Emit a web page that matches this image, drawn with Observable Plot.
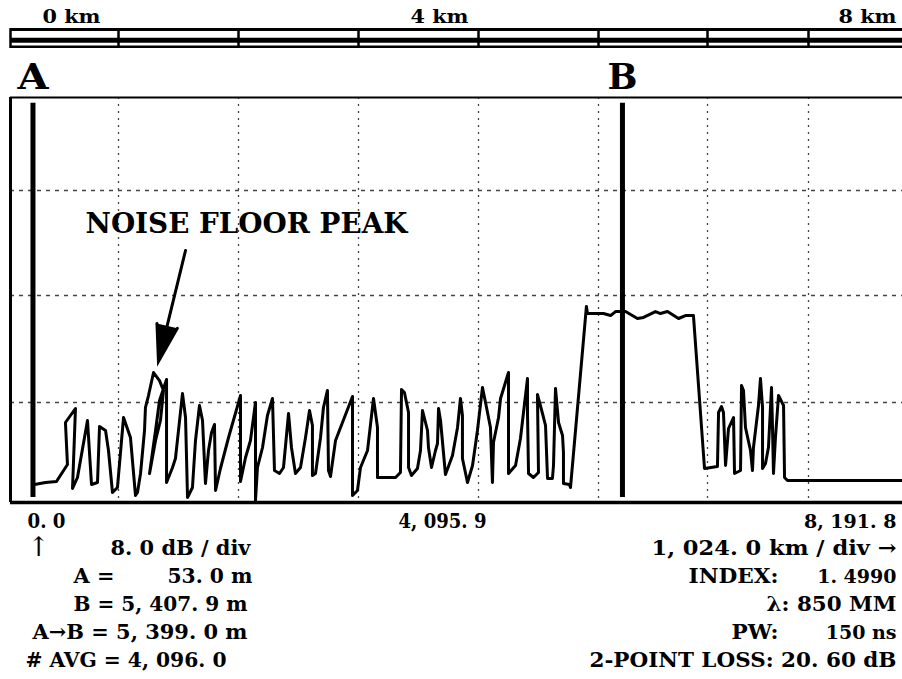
<!DOCTYPE html>
<html><head><meta charset="utf-8">
<script src="https://cdn.jsdelivr.net/npm/d3@7"></script>
<script src="https://cdn.jsdelivr.net/npm/@observablehq/plot@0.6"></script>
<style>
html,body{margin:0;padding:0;background:#fff;}
#chart{width:902px;height:679px;overflow:hidden;}
#chart svg{display:block;overflow:visible;}
</style></head><body><div id="chart"></div>
<script>
// ---- data (distance in metres, level in dB) ----
const traceDistance = [228,332,436,540,521,616,588,635,730,768,825,844,901,929,967,1014,1067,1126,1169,1186,1212,1246,1254,1280,1323,1374,1408,1382,1340,1289,1340,1374,1434,1434,1485,1510,1570,1596,1613,1655,1681,1715,1741,1766,1792,1818,1843,1852,1894,1963,2065,2065,2108,2150,2193,2193,2210,2253,2295,2338,2355,2398,2432,2475,2500,2534,2577,2620,2654,2679,2679,2705,2748,2773,2807,2816,2833,2876,3021,3021,3063,3089,3149,3200,3234,3234,3388,3430,3439,3464,3499,3499,3524,3575,3601,3618,3661,3669,3695,3729,3746,3755,3772,3814,3874,3917,3942,3959,3959,4002,4045,4087,4130,4156,4198,4215,4224,4267,4284,4352,4352,4412,4454,4514,4514,4523,4565,4608,4599,4642,4668,4685,4727,4736,4753,4779,4813,4821,4821,4872,4881,5017,5026,5167,5233,5280,5374,5486,5543,5655,5702,5768,5872,5937,6012,6116,6245,6256,6286,6306,6327,6357,6408,6418,6479,6489,6509,6529,6580,6600,6610,6661,6681,6702,6702,6732,6762,6793,6803,6813,6833,6864,6915,6925,6955,8191.8];
const traceLevel = [1.44,1.6,1.68,3.04,6.4,7.52,1.12,2.0,6.56,1.44,1.6,6.08,5.76,4.16,0.8,1.2,6.8,5.2,0.56,0.8,2.32,5.76,7.6,8.52,10.24,9.64,8.9,6.56,4.96,2.32,5.76,8.15,9.72,1.6,2.8,3.52,8.67,6.8,0.4,1.2,4.96,7.76,6.56,1.52,4.16,5.6,6.24,0.96,2.72,5.2,8.52,1.68,3.6,4.96,8.0,0.16,2.8,4.4,6.96,8.3,2.56,2.32,2.8,7.12,4.4,2.32,2.8,5.2,7.36,6.16,2.16,2.32,5.2,7.6,8.9,2.56,2.08,4.96,8.45,0.56,0.96,2.8,4.16,8.3,6.0,2.0,2.0,2.4,8.97,8.75,7.2,2.8,2.16,2.72,4.16,7.36,5.76,4.4,2.8,4.16,4.72,7.52,6.56,2.24,3.76,6.0,8.3,6.96,3.52,1.6,2.96,5.76,9.12,8.0,6.0,1.6,4.8,6.8,8.3,10.24,2.32,2.96,5.12,9.79,7.2,2.32,2.0,2.4,8.6,7.12,6.16,1.92,1.92,2.96,9.05,6.4,5.36,4.0,1.52,1.44,1.2,15.18,14.65,14.65,14.5,14.8,14.8,14.28,14.36,14.8,14.65,14.8,14.28,14.5,14.5,2.72,2.88,7.2,7.68,7.2,2.96,5.92,6.8,2.32,2.56,9.27,8.9,6.0,4.16,2.56,4.4,7.76,9.79,7.6,2.72,3.12,4.4,9.12,6.0,2.32,5.2,8.52,7.76,2.0,1.76,1.76];

const markerNames = ["A", "B"];
const markerDistance = [213, 5345];

const divisionDistance = [0, 1024, 2048, 3072, 4096, 5120, 6144, 7168, 8192];
const gridDistance = [1024, 2048, 3072, 4096, 5120, 6144, 7168];
const gridLevel = [8, 16, 24];
const levelDivisions = [0, 8, 16, 24, 32];

const rulerLabels = ["0 km", "4 km", "8 km"];
const axisLabels = ["0. 0", "4, 095. 9", "8, 191. 8"];
const axisLabelDistance = [0, 4095.9, 8191.8];

const annotation = "NOISE FLOOR PEAK";
const readoutLeft = ["↑", "8. 0 dB / div", "A =", "53. 0 m", "B = 5, 407. 9 m", "A→B = 5, 399. 0 m", "# AVG = 4, 096. 0"];
const readoutRight = ["1, 024. 0 km / div →", "INDEX:", "1. 4990", "λ: 850 MM", "PW:", "150 ns", "2-POINT LOSS: 20. 60 dB"];

// ---- rendering ----
const FONT = "DejaVu Serif";
const trace = traceDistance.map((d, i) => ({distance: d, level: traceLevel[i]}));
const markers = markerNames.map((n, i) => ({name: n, distance: markerDistance[i]}));
const xScale = {type: "linear", domain: divisionDistance, range: [10, 118, 238, 358, 478, 598, 707, 808, 902]};

// rendered widths of the text runs (layout only)
const textWidth = new Map([
  [axisLabels[0], 38], [axisLabels[1], 88],
  [readoutLeft[1], 140], [readoutLeft[2], 41], [readoutLeft[3], 85], [readoutLeft[4], 174], [readoutLeft[5], 215], [readoutLeft[6], 201],
  [readoutRight[0], 245], [readoutRight[1], 90], [readoutRight[3], 130], [readoutRight[4], 47], [readoutRight[6], 307],
  [annotation, 322], [rulerLabels[0], 58], [rulerLabels[1], 58], [rulerLabels[2], 58], ["A", 31], ["B", 30]
]);

function txt(str, opts) {
  return Plot.text([str], {fontFamily: FONT, fontWeight: "bold", fill: "#000", lineAnchor: "bottom", fontSize: 21, ...opts});
}

// Top distance ruler with the A/B cursor names
const ruler = Plot.plot({
  width: 902, height: 90,
  marginLeft: 10, marginRight: 0, marginTop: 0, marginBottom: 0,
  x: {...xScale, axis: null},
  y: {domain: [0, 1], range: [46.3, 29], axis: null},
  marks: [
    Plot.ruleY([1], {x1: 0, x2: 8192, strokeWidth: 3}),
    Plot.ruleY([0.376], {x1: 0, x2: 8192, strokeWidth: 5}),
    Plot.ruleY([0], {x1: 0, x2: 8192, strokeWidth: 2.5}),
    Plot.ruleX(divisionDistance.slice(0, 8), {y1: -0.1, y2: 1.05, strokeWidth: 2.5}),
    txt(rulerLabels[0], {x: 0, frameAnchor: "top", dy: 22, dx: 32, textAnchor: "start", fontSize: 19}),
    txt(rulerLabels[1], {x: 4096, frameAnchor: "top", dy: 22, dx: -10, textAnchor: "end", fontSize: 19}),
    txt(rulerLabels[2], {x: 8191.8, frameAnchor: "top", dy: 22, dx: -6, textAnchor: "end", fontSize: 19}),
    Plot.text(markers, {x: "distance", text: "name", frameAnchor: "bottom", dy: -2, lineAnchor: "bottom", fontFamily: FONT, fontWeight: "bold", fontSize: 35})
  ]
});

const main = Plot.plot({
  width: 902, height: 589,
  marginLeft: 10, marginRight: 0, marginTop: 7, marginBottom: 177,
  x: {...xScale, axis: null},
  y: {type: "linear", domain: levelDivisions, range: [412, 312, 205, 100, 7], axis: null},
  marks: [
    Plot.ruleX(gridDistance, {stroke: "#444", strokeDasharray: "2,5", strokeWidth: 1.3}),
    Plot.ruleY(gridLevel, {stroke: "#444", strokeDasharray: "4,5", strokeWidth: 1.3}),
    Plot.ruleY([32], {strokeWidth: 2}),
    Plot.ruleY([0], {strokeWidth: 3.5}),
    Plot.ruleX([0], {strokeWidth: 3}),
    Plot.ruleX(markers, {x: "distance", y1: 0.4, y2: 31.5, strokeWidth: 5}),
    Plot.line(trace, {x: "distance", y: "level", stroke: "#000", strokeWidth: 3}),
    txt(annotation, {x: 2116, y: 20.8, fontSize: 27}),
    Plot.arrow([{x1: 1596, y1: 19.43, x2: 1365, y2: 11.07}], {x1: "x1", y1: "y1", x2: "x2", y2: "y2", strokeWidth: 3, headLength: 20, headAngle: 32, fill: "#000", stroke: "#000"}),
    // distance axis labels
    txt(axisLabels[0], {x: axisLabelDistance[0], frameAnchor: "bottom", dy: 25, dx: 17, textAnchor: "start"}),
    txt(axisLabels[1], {x: axisLabelDistance[1], frameAnchor: "bottom", dy: 25, dx: -36, textAnchor: "middle"}),
    txt(axisLabels[2], {x: axisLabelDistance[2], frameAnchor: "bottom", dy: 25, dx: -6, textAnchor: "end", fontSize: 19}),
    // left readout
    txt(readoutLeft[0], {frameAnchor: "bottom-left", dx: 17, dy: 53, textAnchor: "start", fontSize: 27, fontWeight: "normal"}),
    txt(readoutLeft[1], {frameAnchor: "bottom-left", dx: 100, dy: 52, textAnchor: "start"}),
    txt(readoutLeft[2], {frameAnchor: "bottom-left", dx: 63, dy: 80, textAnchor: "start"}),
    txt(readoutLeft[3], {frameAnchor: "bottom-left", dx: 242, dy: 80, textAnchor: "end"}),
    txt(readoutLeft[4], {frameAnchor: "bottom-left", dx: 237, dy: 108, textAnchor: "end"}),
    txt(readoutLeft[5], {frameAnchor: "bottom-left", dx: 237, dy: 136, textAnchor: "end"}),
    txt(readoutLeft[6], {frameAnchor: "bottom-left", dx: 216, dy: 164, textAnchor: "end"}),
    // right readout
    txt(readoutRight[0], {frameAnchor: "bottom-right", dx: -6, dy: 52, textAnchor: "end"}),
    txt(readoutRight[1], {frameAnchor: "bottom-right", dx: -214, dy: 80, textAnchor: "start"}),
    txt(readoutRight[2], {frameAnchor: "bottom-right", dx: -6, dy: 80, textAnchor: "end", fontSize: 19}),
    txt(readoutRight[3], {frameAnchor: "bottom-right", dx: -6, dy: 108, textAnchor: "end"}),
    txt(readoutRight[4], {frameAnchor: "bottom-right", dx: -171, dy: 136, textAnchor: "start"}),
    txt(readoutRight[5], {frameAnchor: "bottom-right", dx: -6, dy: 136, textAnchor: "end", fontSize: 19}),
    txt(readoutRight[6], {frameAnchor: "bottom-right", dx: -6, dy: 164, textAnchor: "end"})
  ]
});
d3.select(main).selectAll('g[aria-label="arrow"] path').attr("fill", "#000").attr("stroke-linejoin", "miter").attr("stroke-miterlimit", 10);

for (const svg of [ruler, main]) {
  d3.select(svg).selectAll("text").each(function () {
    const w = textWidth.get(this.textContent);
    if (w) d3.select(this).attr("textLength", w).attr("lengthAdjust", "spacingAndGlyphs");
  });
}

const host = document.getElementById("chart");
host.appendChild(ruler);
host.appendChild(main);
</script></body></html>
